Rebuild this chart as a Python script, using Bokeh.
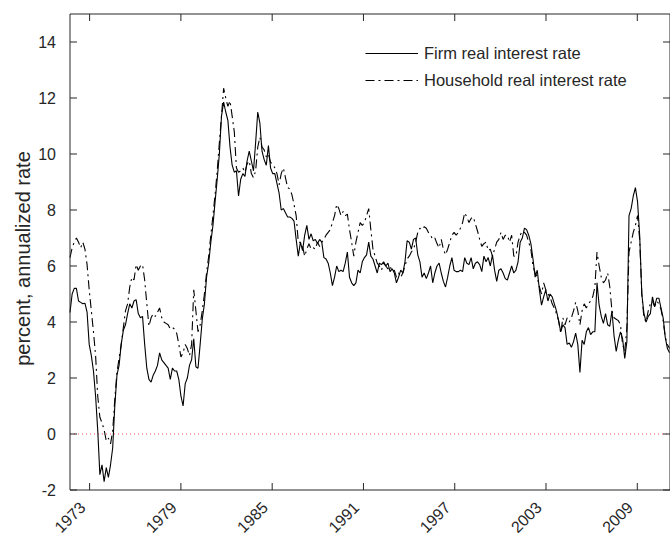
from math import pi

import numpy as np
from bokeh.core.properties import value
from bokeh.embed import file_html
from bokeh.models import Legend, LegendItem, Range1d
from bokeh.plotting import figure
from bokeh.resources import INLINE

# Sampling of the two rate series (decimal years)
start_year = 1971.71
step_years = 0.14025

# Firm real interest rate, percent annualized
firm_rate = [
    4.34, 5.0, 5.2, 5.2, 4.75, 4.7, 4.65, 4.67, 4.35, 3.2, 2.8, 2.25, 1.35, 0.13,
    -1.45, -1.1, -1.7, -1.2, -1.55, -1.1, -0.5, 1.0, 2.1, 2.45, 3.2, 3.7, 3.9, 4.3,
    4.65, 4.5, 4.75, 4.8, 4.3, 4.15, 4.2, 3.2, 2.35, 1.95, 1.85, 2.1, 2.25, 2.45,
    2.9, 2.65, 2.55, 2.45, 2.35, 1.95, 2.35, 2.25, 2.25, 1.95, 1.35, 1.0, 1.8, 2.0,
    2.45, 2.65, 3.4, 2.4, 2.35, 3.2, 4.1, 4.65, 5.6, 6.1, 6.85, 7.45, 8.3, 9.1,
    10.0, 11.35, 11.85, 11.5, 11.2, 10.25, 9.6, 9.35, 9.4, 8.5, 9.1, 9.3, 9.2, 9.75,
    10.1, 9.75, 9.4, 10.4, 11.5, 11.1, 10.1, 9.8, 9.6, 10.3, 9.5, 9.3, 9.3, 8.95,
    8.6, 8.0, 8.05, 7.9, 7.75, 7.75, 7.7, 7.6, 6.95, 6.35, 6.85, 6.55, 7.1, 7.45,
    6.95, 7.15, 6.9, 6.95, 6.8, 6.95, 6.85, 6.3, 6.25, 6.1, 5.75, 5.3, 5.6, 6.0,
    5.8, 5.85, 5.8, 6.1, 6.5, 5.6, 5.4, 5.3, 5.4, 5.85, 5.75, 6.15, 6.3, 6.4,
    6.85, 6.35, 6.25, 6.0, 5.75, 6.1, 6.05, 6.15, 6.0, 6.1, 5.8, 5.9, 5.75, 5.4,
    5.6, 5.85, 5.75, 6.15, 6.9, 6.85, 6.6, 6.95, 7.0, 6.4, 6.15, 5.6, 5.75, 5.55,
    5.75, 6.0, 5.4, 5.75, 6.0, 6.1, 5.75, 5.45, 5.25, 5.6, 6.0, 6.3, 5.85, 5.8,
    5.8, 5.85, 5.8, 6.3, 6.1, 6.05, 6.3, 5.9, 6.1, 6.15, 6.05, 5.8, 6.35, 6.15,
    6.3, 6.0, 6.4, 5.85, 5.45, 5.85, 5.9, 5.75, 5.55, 5.5, 5.75, 6.0, 5.75, 5.85,
    6.15, 6.85, 7.0, 7.35, 7.3, 7.1, 6.8, 6.25, 5.6, 5.85, 5.15, 4.6, 4.9, 5.15,
    4.75, 5.0, 4.9, 4.65, 4.4, 4.05, 3.65, 3.9, 3.8, 3.2, 3.25, 3.1, 3.3, 3.6,
    3.2, 2.2, 3.35, 3.2, 3.65, 3.8, 3.55, 3.65, 3.65, 5.4, 4.6, 4.2, 3.95, 4.3,
    3.9, 3.85, 4.4, 3.5, 2.95, 3.35, 3.65, 3.4, 2.7, 3.3, 7.8, 8.05, 8.5, 8.8,
    8.3, 7.1, 5.0, 4.3, 4.0, 4.2, 4.3, 4.9, 4.55, 4.85, 4.85, 4.5, 4.15, 3.45,
    3.05, 2.9,
]

# Household real interest rate, percent annualized
household_rate = [
    6.3, 6.65, 6.85, 7.0, 6.85, 6.65, 6.85, 6.6, 6.05, 5.15, 4.4, 3.65, 2.8, 1.35,
    0.6, 0.4, 0.15, -0.25, -0.15, -0.35, 0.1, 1.25, 2.2, 2.7, 3.2, 3.8, 4.4, 4.65,
    5.25, 5.6, 5.5, 6.05, 5.85, 6.0, 6.05, 5.5, 4.65, 3.85, 4.15, 4.3, 4.2, 4.35,
    4.5, 4.15, 4.0, 3.95, 3.9, 3.75, 3.8, 3.75, 3.6, 3.2, 2.75, 2.9, 3.2, 3.05,
    2.8, 3.2, 5.15, 4.4, 3.65, 3.9, 4.4, 5.0, 5.75, 6.35, 7.1, 7.8, 8.55, 9.4,
    10.4, 11.35, 12.35, 12.0, 11.7, 11.9, 11.35, 10.8, 9.5, 9.35, 9.4, 9.5, 9.35, 9.65,
    9.75, 9.3, 9.15, 9.4, 10.25, 10.6, 10.25, 10.15, 9.9, 10.0, 9.7, 9.65, 9.5, 9.3,
    8.9, 9.3, 9.5, 9.15, 8.8, 8.75, 8.55, 8.2, 7.8, 6.85, 6.85, 6.7, 6.35, 6.6,
    6.8, 6.6, 6.65, 6.6, 6.85, 6.7, 6.85, 6.95, 7.1, 7.2, 7.3, 7.55, 7.8, 8.2,
    8.05, 7.8, 7.95, 7.8, 7.85, 7.3, 6.85, 6.35, 6.85, 7.2, 7.55, 7.45, 7.55, 7.8,
    8.05, 7.3, 6.6, 6.35, 6.1, 6.0, 5.85, 6.1, 6.0, 5.9, 6.0, 5.8, 5.85, 5.6,
    5.75, 5.6, 5.75, 6.0, 6.25, 6.35, 6.5, 6.6, 6.85, 7.2, 7.35, 7.3, 7.4, 7.35,
    7.2, 7.1, 6.95, 7.0, 6.8, 6.65, 6.95, 6.6, 6.4, 6.6, 6.85, 7.1, 7.2, 7.1,
    7.2, 7.35, 7.55, 7.9, 7.75, 7.55, 7.7, 7.75, 7.5, 7.25, 6.95, 6.7, 6.8, 6.85,
    6.55, 6.6, 6.35, 6.6, 6.85, 6.95, 7.2, 6.95, 7.1, 7.1, 6.85, 7.1, 6.35, 6.35,
    6.85, 7.1, 7.25, 7.2, 7.1, 6.85, 6.6, 6.0, 5.75, 5.6, 5.25, 5.0, 5.4, 5.15,
    5.0, 4.9, 4.65, 4.5, 4.3, 4.05, 3.6, 4.15, 3.9, 4.15, 4.0, 4.15, 4.4, 4.7,
    4.4, 3.9, 4.4, 4.65, 4.5, 4.65, 4.75, 4.9, 5.25, 6.5, 6.0, 5.6, 5.4, 5.5,
    5.75, 5.25, 4.4, 4.15, 4.1, 4.05, 3.9, 3.2, 2.95, 3.8, 6.5, 6.85, 7.2, 7.45,
    7.8, 6.95, 5.0, 4.15, 4.0, 4.4, 4.65, 4.75, 4.55, 4.75, 4.65, 4.45, 4.05, 3.45,
    3.2, 3.05,
]

year_ticks = [1973, 1979, 1985, 1991, 1997, 2003, 2009]
rate_ticks = [-2, 0, 2, 4, 6, 8, 10, 12, 14]
y_title = "percent, annualized rate"

# extent of the boxed axes
x_start, x_end = 1971.71, 2011.15
y_min, y_max = -2, 15

years = start_year + step_years * np.arange(len(firm_rate))

FONT = "Liberation Sans"
INK = "#262626"
TICK_LEN = 7

# Page geometry in pixels: the box sits inside a 670 x 539 canvas and the
# frame covers the whole canvas, so labels outside the box are plain glyphs.
W, H = 670, 539
BOX_LEFT, BOX_RIGHT = 69.5, 669.5
BOX_TOP, BOX_BOTTOM = 13.5, 489.5
px_x = (x_end - x_start) / (BOX_RIGHT - BOX_LEFT)
px_y = (y_max - y_min) / (BOX_BOTTOM - BOX_TOP)

p = figure(
    width=W,
    height=H,
    x_range=Range1d(x_start - BOX_LEFT * px_x, x_end + (W - BOX_RIGHT) * px_x),
    y_range=Range1d(y_min - (H - BOX_BOTTOM) * px_y, y_max + BOX_TOP * px_y),
    x_axis_type=None,
    y_axis_type=None,
    output_backend="svg",
    toolbar_location=None,
    min_border=0,
)
p.background_fill_color = "white"
p.border_fill_color = "white"
p.outline_line_color = None

# zero reference line
p.line([x_start, x_end], [0, 0], line_color="red", line_dash="1 3",
       line_width=0.8, line_alpha=0.85)

firm = p.line(years, firm_rate, line_color="black", line_width=1.1)
house = p.line(years, household_rate, line_color="black", line_width=1.1,
               line_dash="9 4 2 4")

# box around the axes
p.line([x_start, x_end, x_end, x_start, x_start],
       [y_min, y_min, y_max, y_max, y_min], line_color=INK, line_width=1)

# inward ticks on all four edges
n_x, n_y = len(year_ticks), len(rate_ticks)
p.ray(x=year_ticks, y=[y_min] * n_x, length=TICK_LEN, length_units="screen",
      angle=pi / 2, line_color=INK, line_width=1)
p.ray(x=year_ticks, y=[y_max] * n_x, length=TICK_LEN, length_units="screen",
      angle=-pi / 2, line_color=INK, line_width=1)
p.ray(x=[x_start] * n_y, y=rate_ticks, length=TICK_LEN, length_units="screen",
      angle=0, line_color=INK, line_width=1)
p.ray(x=[x_end] * n_y, y=rate_ticks, length=TICK_LEN, length_units="screen",
      angle=pi, line_color=INK, line_width=1)

# y tick labels, right aligned left of the box
p.text(
    x=[x_start - 14 * px_x] * n_y, y=rate_ticks, text=[str(t) for t in rate_ticks],
    text_align="right", text_baseline="middle",
    text_font=value(FONT), text_font_size="16px", text_color=INK,
)

# slanted year labels under the box
p.text(
    x=[yr - 20 * px_x for yr in year_ticks], y=[y_min - 27 * px_y] * n_x,
    text=[str(yr) for yr in year_ticks], angle=pi / 4,
    text_align="center", text_baseline="middle",
    text_font=value(FONT), text_font_size="16px", text_color=INK,
)

# y axis title
p.text(
    x=[x_start - 47 * px_x], y=[y_max - (258 - BOX_TOP) * px_y], text=[y_title],
    angle=pi / 2, text_align="center", text_baseline="middle",
    text_font=value(FONT), text_font_size="20px", text_color=INK,
)

legend = Legend(
    items=[
        LegendItem(label="Firm real interest rate", renderers=[firm]),
        LegendItem(label="Household real interest rate", renderers=[house]),
    ],
    location=(365, 447),
    border_line_color=None,
    background_fill_alpha=0,
    label_text_font=FONT,
    label_text_font_size="16.5px",
    label_text_color=INK,
    glyph_width=53,
    glyph_height=24,
    label_height=24,
    label_standoff=6,
    spacing=3,
    padding=10,
    margin=0,
)
p.add_layout(legend)

open("out.html", "w").write(file_html(p, INLINE))
